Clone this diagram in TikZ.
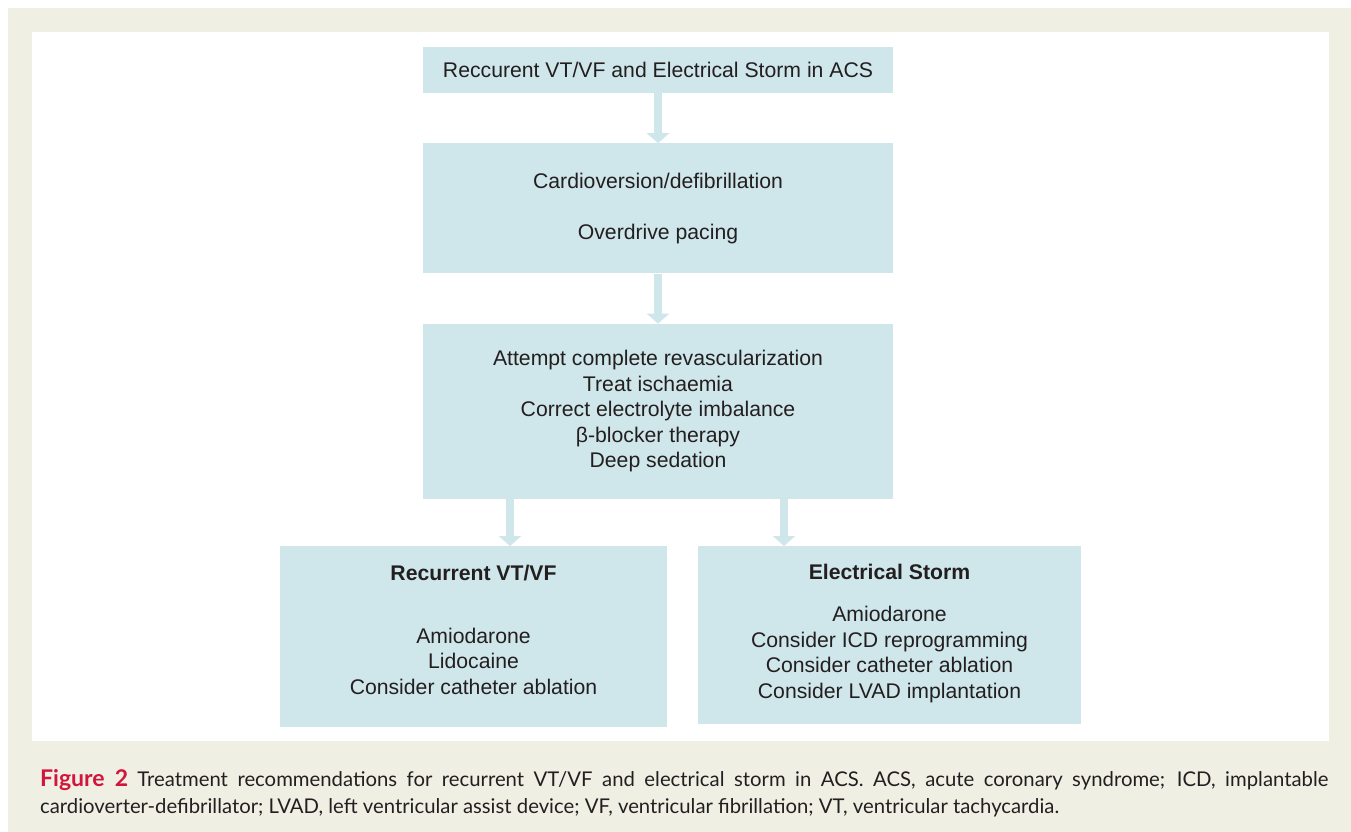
\documentclass[tikz,border=0pt]{standalone}
\usepackage{fontspec}
\setmainfont{Liberation Sans}
\newfontfamily\capfont{Lato}
\usetikzlibrary{arrows.meta, positioning}
\definecolor{boxColor}{HTML}{CFE6EA}
\definecolor{frameColor}{HTML}{EFEFE4}
\definecolor{inkColor}{HTML}{231F20}
\definecolor{figColor}{HTML}{D2153D}
\tikzstyle{flow} = [line width=8pt, draw=boxColor, -{Triangle[width=22pt,length=10pt]}]

\begin{document}
\begin{tikzpicture}[
    x=1pt, y=-1pt,
    node distance=50pt and 31pt,
    stage/.style={rectangle, fill=boxColor, minimum width=470pt, inner sep=0pt, align=center, text=inkColor, font=\fontsize{21.2}{25.5}\selectfont},
    txt/.style={inner sep=0pt, align=center, text=inkColor, font=\fontsize{21.2}{25.5}\selectfont}
]
\useasboundingbox (0,0) rectangle (1351,832);

% Frame
\fill[frameColor] (8,8) rectangle (1351,832);
\fill[white] (32,32) rectangle (1329,741);

% Chain
\node[stage, minimum height=46pt] (top) at (658,70) {Reccurent VT/VF and Electrical Storm in ACS};
\node[stage, minimum height=130pt, below=of top] (cardio) {Cardioversion/defibrillation\\[25.5pt]Overdrive pacing};
\node[stage, minimum height=175pt, below=of cardio] (revasc) {Attempt complete revascularization\\Treat ischaemia\\Correct electrolyte imbalance\\β-blocker therapy\\Deep sedation};

% Two branches
\node[stage, minimum width=387pt, minimum height=181pt, below=47pt of revasc, xshift=-184.5pt] (rvt) {};
\node[stage, minimum width=383pt, minimum height=178pt, below=47pt of revasc, xshift=231.5pt] (storm) {};

\node[txt] (rvtHead) at ([yshift=-27pt]rvt.north) {\textbf{Recurrent VT/VF}};
\node[txt] (rvtList) at ([yshift=-24.5pt]rvt.center) {Amiodarone\\Lidocaine\\Consider catheter ablation};
\node[txt] (stormHead) at ([yshift=-26pt]storm.north) {\textbf{Electrical Storm}};
\node[txt] (stormList) at ([yshift=-19.5pt]storm.center) {Amiodarone\\Consider ICD reprogramming\\Consider catheter ablation\\Consider LVAD implantation};

% Arrows
\draw[flow] (top) -- (cardio);
\draw[flow] (cardio) -- (revasc);
\draw[flow] ([xshift=-148pt]revasc.south) -- ([xshift=-148pt]revasc.south |- rvt.north);
\draw[flow] ([xshift=126pt]revasc.south) -- ([xshift=126pt]revasc.south |- storm.north);

% Caption
\node[anchor=north west, inner sep=0pt, text width=1288pt, align=justify, text=inkColor, font=\capfont\fontsize{20.3}{27}\selectfont] (caption) at (40,769) {{\fontsize{23}{27}\selectfont\bfseries\color{figColor}Figure 2}\hspace{0.45em}Treatment recommendations for recurrent VT/VF and electrical storm in ACS. ACS, acute coronary syndrome; ICD, implantable\linebreak cardioverter-defibrillator; LVAD, left ventricular assist device; VF, ventricular fibrillation; VT, ventricular tachycardia.};
\end{tikzpicture}
\end{document}
